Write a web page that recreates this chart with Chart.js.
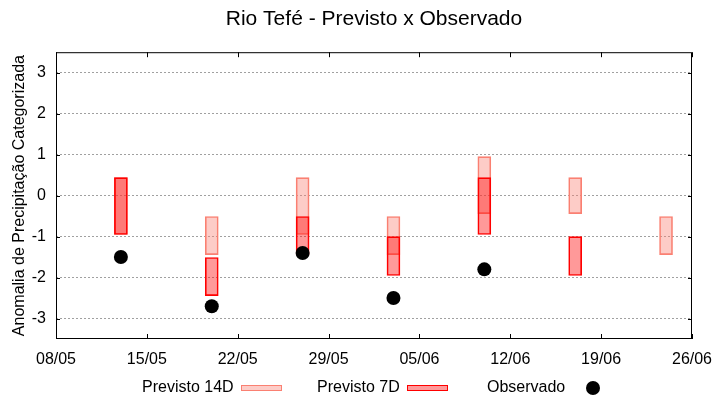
<!DOCTYPE html>
<html lang="pt-BR">
  <head>
    <meta charset="UTF-8" />
    <title>Rio Tefé - Previsto x Observado</title>
    <style>
      * { margin: 0; padding: 0; box-sizing: border-box; }
      body { background: #fff; font-family: "Liberation Sans", Arial, sans-serif; }
      .wrap { position: relative; width: 720px; height: 400px; }
      .legend span { position: absolute; font-size: 16px; line-height: 16px; color: #000; white-space: nowrap; }
      .legend .sample { position: absolute; height: 6px; width: 41px; }
      .legend .dot { position: absolute; width: 14px; height: 14px; border-radius: 50%; background: #000; }
    </style>
    <script src="https://cdn.jsdelivr.net/npm/chart.js@4"></script>
  </head>
  <body>
    <div class="wrap">
      <canvas id="chart" width="720" height="400"></canvas>
      <div class="legend">
        <span style="left:142px; top:379px">Previsto 14D</span>
        <div class="sample" id="s14" style="left:241px; top:385px"></div>
        <span style="left:317px; top:379px">Previsto 7D</span>
        <div class="sample" id="s7" style="left:407px; top:385px"></div>
        <span style="left:487px; top:379px">Observado</span>
        <div class="dot" style="left:586px; top:381px"></div>
      </div>
    </div>
    <script>
      // semanas com previsão
      const dates = ["13/05", "20/05", "27/05", "03/06", "10/06", "17/06", "24/06"];
      const prev14Low = [-0.95, -1.44, -0.95, -1.44, -0.44, -0.44, -1.44];
      const prev14High = [0.44, -0.51, 0.44, -0.51, 0.95, 0.44, -0.51];
      const prev7Low = [-0.95, -2.44, -1.44, -1.95, -0.95, -1.95, null];
      const prev7High = [0.44, -1.51, -0.51, -1.0, 0.44, -1.0, null];
      const observed = [-1.5, -2.7, -1.4, -2.5, -1.8, null, null];

      const tickLabels = ["08/05", "15/05", "22/05", "29/05", "05/06", "12/06", "19/06", "26/06"];
      const yTicks = [-3, -2, -1, 0, 1, 2, 3];

      const fill14 = "rgba(250, 128, 114, 0.4)";
      const line14 = "rgb(250, 128, 114)";
      const fill7 = "rgba(255, 0, 0, 0.4)";
      const line7 = "rgb(255, 0, 0)";

      document.getElementById("s14").style.cssText += `background:${fill14}; border:1px solid ${line14};`;
      document.getElementById("s7").style.cssText += `background:${fill7}; border:1px solid ${line7};`;

      // dias contados a partir do primeiro tick (08/05)
      function dayOffset(s) {
        const [d, m] = s.split("/").map(Number);
        const [d0, m0] = tickLabels[0].split("/").map(Number);
        return (Date.UTC(2024, m - 1, d) - Date.UTC(2024, m0 - 1, d0)) / 86400000;
      }

      function boxes(low, high) {
        return dates
          .map((d, i) => ({ x: dayOffset(d), y: [low[i], high[i]] }))
          .filter(p => p.y[0] !== null && p.y[1] !== null);
      }

      const frame = {
        id: "frame",
        afterDraw(chart) {
          const { ctx, chartArea: a, scales: { x, y } } = chart;
          ctx.save();
          ctx.strokeStyle = "#000";
          ctx.lineWidth = 1;
          ctx.strokeRect(a.left + 0.5, a.top + 0.5, a.right - a.left - 1, a.bottom - a.top - 1);
          ctx.beginPath();
          x.ticks.forEach(t => {
            const px = Math.round(x.getPixelForValue(t.value)) + 0.5;
            ctx.moveTo(px, a.bottom);
            ctx.lineTo(px, a.bottom - 5);
            ctx.moveTo(px, a.top);
            ctx.lineTo(px, a.top + 5);
          });
          y.ticks.forEach(t => {
            const py = Math.round(y.getPixelForValue(t.value)) + 0.5;
            ctx.moveTo(a.left, py);
            ctx.lineTo(a.left + 4, py);
            ctx.moveTo(a.right, py);
            ctx.lineTo(a.right - 4, py);
          });
          ctx.stroke();
          ctx.restore();
        },
      };

      Chart.defaults.font.family = '"Liberation Sans", Arial, sans-serif';
      Chart.defaults.color = "#000";

      new Chart(document.getElementById("chart"), {
        type: "bar",
        data: {
          datasets: [
            {
              type: "scatter",
              label: "Observado",
              data: dates.map((d, i) => ({ x: dayOffset(d), y: observed[i] })).filter(p => p.y !== null),
              pointRadius: 7,
              pointBackgroundColor: "#000",
              pointBorderWidth: 0,
              order: 0,
            },
            {
              label: "Previsto 7D",
              data: boxes(prev7Low, prev7High),
              backgroundColor: fill7,
              borderColor: line7,
              borderWidth: 1,
              borderSkipped: false,
              barThickness: 13,
              grouped: false,
              order: 1,
            },
            {
              label: "Previsto 14D",
              data: boxes(prev14Low, prev14High),
              backgroundColor: fill14,
              borderColor: line14,
              borderWidth: 1,
              borderSkipped: false,
              barThickness: 13,
              grouped: false,
              order: 2,
            },
          ],
        },
        options: {
          responsive: false,
          animation: false,
          layout: { padding: { left: 0, right: 28, top: 0, bottom: 0 } },
          plugins: {
            legend: { display: false },
            tooltip: { enabled: false },
            title: {
              display: true,
              text: "Rio Tefé - Previsto x Observado",
              fullSize: false,
              font: { size: 21, weight: "normal" },
              color: "#000",
              padding: { top: 7, bottom: 20 },
            },
          },
          scales: {
            x: {
              type: "linear",
              min: 0,
              max: dayOffset(tickLabels[tickLabels.length - 1]),
              offset: false,
              afterBuildTicks: s => { s.ticks = tickLabels.map(t => ({ value: dayOffset(t) })); },
              afterFit: s => { s.height = 61; },
              grid: { display: false },
              border: { display: false },
              ticks: {
                font: { size: 16 },
                padding: 3,
                maxRotation: 0,
                autoSkip: false,
                callback: (v, i) => tickLabels[i],
              },
            },
            y: {
              min: -3.5,
              max: 3.5,
              afterBuildTicks: s => { s.ticks = yTicks.map(v => ({ value: v })); },
              afterFit: s => { s.width = 56; },
              grid: { color: "#a0a0a0", lineWidth: 1, drawTicks: false },
              border: { display: false, dash: [2, 2] },
              ticks: { font: { size: 16 }, padding: 10, callback: v => String(v) },
              title: {
                display: true,
                text: "Anomalia de Precipitação Categorizada",
                font: { size: 16 },
                padding: { top: 10, bottom: 0 },
              },
            },
          },
        },
        plugins: [frame],
      });
    </script>
  </body>
</html>
